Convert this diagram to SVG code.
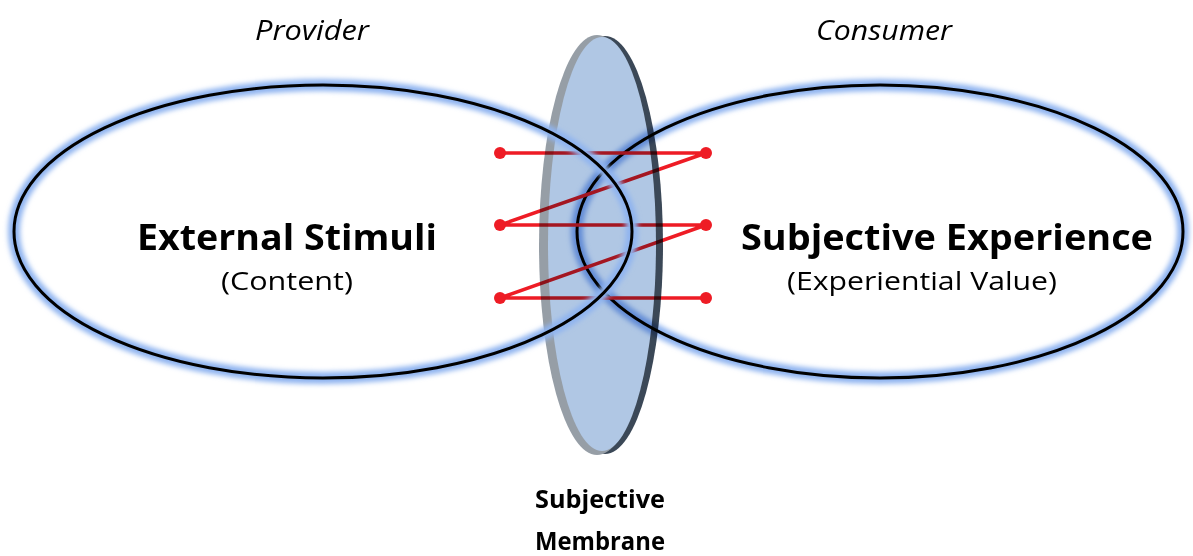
<svg xmlns="http://www.w3.org/2000/svg" width="1193" height="556" viewBox="0 0 1193 556">
<defs>
<filter id="glow" x="-10%" y="-20%" width="120%" height="140%"><feGaussianBlur stdDeviation="2.4"/></filter>
<style>
.glow{fill:none;stroke:#8fb4f0;stroke-width:12;filter:url(#glow)}
.ring{fill:none;stroke:#000;stroke-width:3}
.red{stroke:#ee1c25;stroke-width:3.5;fill:none}
.dot{fill:#ee1c25}
.t{font-family:"Open Sans","Liberation Sans",sans-serif;fill:#000;text-anchor:middle}
</style>
</defs>
<rect width="1193" height="556" fill="#fff"/>
<g id="consumer-ellipse">
<ellipse class="glow" cx="880" cy="231.5" rx="303" ry="146.5"/>
<ellipse class="ring" cx="880" cy="231.5" rx="303" ry="146.5"/>
</g>
<g id="connectors">
<polyline class="red" points="500,153 706,153 500,225 706,225 500,298 706,298"/>
<circle class="dot" cx="500" cy="153" r="6"/><circle class="dot" cx="706" cy="153" r="6"/>
<circle class="dot" cx="500" cy="225" r="6"/><circle class="dot" cx="706" cy="225" r="6"/>
<circle class="dot" cx="500" cy="298" r="6"/><circle class="dot" cx="706" cy="298" r="6"/>
</g>
<g id="membrane" style="mix-blend-mode:multiply" opacity="0.92">
<ellipse cx="605" cy="245" rx="58" ry="209" fill="#2a3848"/>
<ellipse cx="597" cy="245" rx="58" ry="210" fill="#8d969f"/>
<ellipse cx="602" cy="244" rx="54" ry="207" fill="#a9c2e2"/>
</g>
<g id="provider-ellipse">
<ellipse class="glow" cx="323" cy="231.5" rx="309" ry="146.5"/>
<ellipse class="ring" cx="323" cy="231.5" rx="309" ry="146.5"/>
</g>
<g id="labels">
<text class="t" x="312" y="40" font-size="28" font-style="italic" textLength="114" lengthAdjust="spacingAndGlyphs">Provider</text>
<text class="t" x="884" y="40" font-size="28" font-style="italic" textLength="136" lengthAdjust="spacingAndGlyphs">Consumer</text>
<text class="t" x="287" y="250" font-size="36" font-weight="bold" textLength="300" lengthAdjust="spacingAndGlyphs">External Stimuli</text>
<text class="t" x="287" y="290" font-size="26" textLength="132" lengthAdjust="spacingAndGlyphs">(Content)</text>
<text class="t" x="947" y="250" font-size="36" font-weight="bold" textLength="412" lengthAdjust="spacingAndGlyphs">Subjective Experience</text>
<text class="t" x="922" y="290" font-size="26" textLength="270" lengthAdjust="spacingAndGlyphs">(Experiential Value)</text>
<text class="t" x="600" y="508" font-size="25" font-weight="bold" textLength="130" lengthAdjust="spacingAndGlyphs">Subjective</text>
<text class="t" x="600" y="550" font-size="25" font-weight="bold" textLength="130" lengthAdjust="spacingAndGlyphs">Membrane</text>
</g>
</svg>
